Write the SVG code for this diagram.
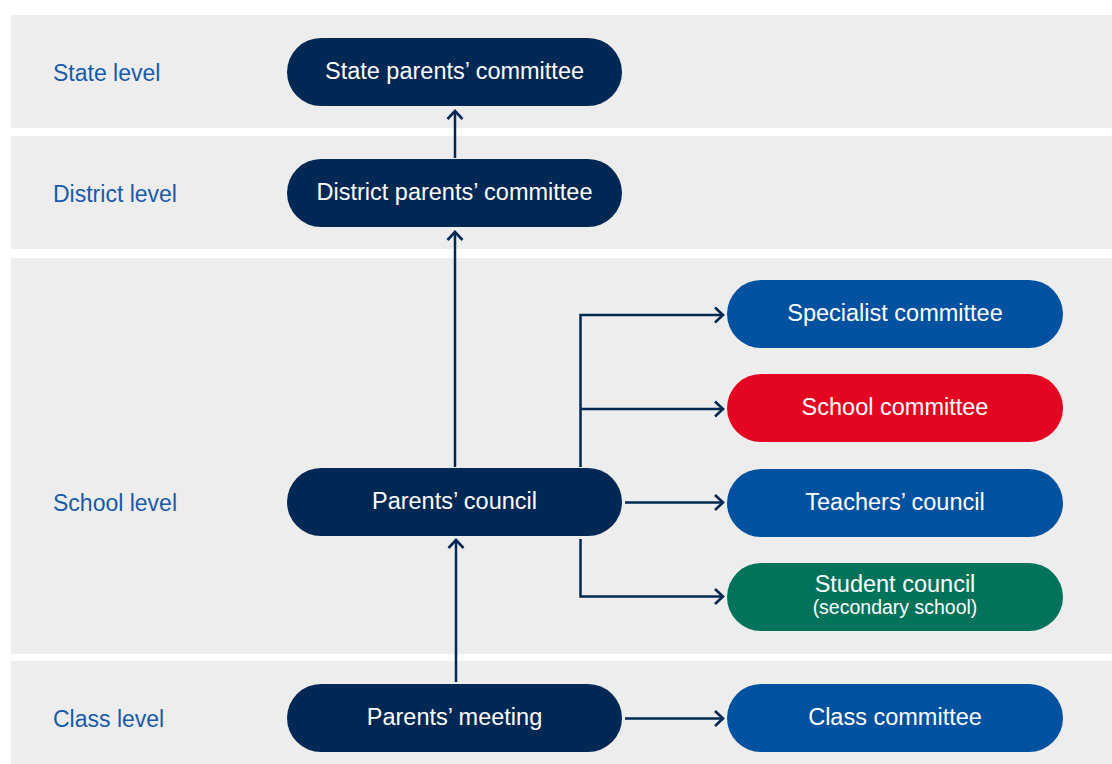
<svg xmlns="http://www.w3.org/2000/svg" width="1112" height="764" viewBox="0 0 1112 764">
<defs>
<style>
.band{fill:#ededed}
.lvl{font-family:"Liberation Sans",Arial,sans-serif;font-size:23px;fill:#1a5aa8}
.t{font-family:"Liberation Sans",Arial,sans-serif;font-size:23.5px;fill:#ffffff;text-anchor:middle}
.ts{font-family:"Liberation Sans",Arial,sans-serif;font-size:19.5px;fill:#ffffff;text-anchor:middle}
.navy{fill:#002855}
.blue{fill:#0051a0}
.red{fill:#e40521}
.green{fill:#00735a}
.c{fill:none;stroke:#002855;stroke-width:2.5}
</style>
<marker id="arr" viewBox="-10 -10 20 20" markerWidth="20" markerHeight="20" refX="0" refY="0" orient="auto" markerUnits="userSpaceOnUse" overflow="visible">
<path d="M-8,-7.5 L0,0 L-8,7.5" fill="none" stroke="#002855" stroke-width="2.6"/>
</marker>
</defs>
<rect width="1112" height="764" fill="#ffffff"/>
<g id="bands">
<rect class="band" x="11" y="15" width="1101" height="113"/>
<rect class="band" x="11" y="136" width="1101" height="113"/>
<rect class="band" x="11" y="258" width="1101" height="396"/>
<rect class="band" x="11" y="661" width="1101" height="103"/>
<text class="lvl" x="53" y="80.5">State level</text>
<text class="lvl" x="53" y="201.5">District level</text>
<text class="lvl" x="53" y="510.5">School level</text>
<text class="lvl" x="53" y="726.5">Class level</text>
</g>
<g id="connectors">
<path class="c" d="M455,158 V111" marker-end="url(#arr)"/>
<path class="c" d="M455,467 V232" marker-end="url(#arr)"/>
<path class="c" d="M456,682 V540" marker-end="url(#arr)"/>
<path class="c" d="M580.5,467 V315 H723" marker-end="url(#arr)"/>
<path class="c" d="M580.5,409 H723" marker-end="url(#arr)"/>
<path class="c" d="M625,502.5 H723" marker-end="url(#arr)"/>
<path class="c" d="M580.5,539 V596.5 H723" marker-end="url(#arr)"/>
<path class="c" d="M625,718.5 H723" marker-end="url(#arr)"/>
</g>
<g id="state-parents-committee">
<rect class="navy" x="287" y="38" width="335" height="68" rx="34"/>
<text class="t" x="454.5" y="79">State parents’ committee</text>
</g>
<g id="district-parents-committee">
<rect class="navy" x="287" y="159" width="335" height="68" rx="34"/>
<text class="t" x="454.5" y="200">District parents’ committee</text>
</g>
<g id="parents-council">
<rect class="navy" x="287" y="468" width="335" height="68" rx="34"/>
<text class="t" x="454.5" y="509">Parents’ council</text>
</g>
<g id="parents-meeting">
<rect class="navy" x="287" y="684" width="335" height="68" rx="34"/>
<text class="t" x="454.5" y="725">Parents’ meeting</text>
</g>
<g id="specialist-committee">
<rect class="blue" x="727" y="280" width="336" height="68" rx="34"/>
<text class="t" x="895" y="321">Specialist committee</text>
</g>
<g id="school-committee">
<rect class="red" x="727" y="374" width="336" height="68" rx="34"/>
<text class="t" x="895" y="415">School committee</text>
</g>
<g id="teachers-council">
<rect class="blue" x="727" y="469" width="336" height="68" rx="34"/>
<text class="t" x="895" y="510">Teachers’ council</text>
</g>
<g id="student-council">
<rect class="green" x="727" y="563" width="336" height="68" rx="34"/>
<text class="t" x="895" y="591.5">Student council</text>
<text class="ts" x="895" y="613.5">(secondary school)</text>
</g>
<g id="class-committee">
<rect class="blue" x="727" y="684" width="336" height="68" rx="34"/>
<text class="t" x="895" y="725">Class committee</text>
</g>
</svg>
